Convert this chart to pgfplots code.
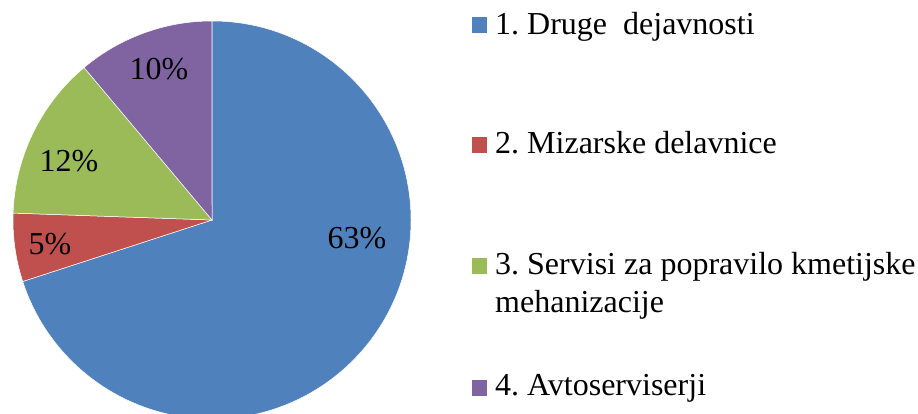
\documentclass[border=0pt]{standalone}
\usepackage{fontspec}
\setmainfont{Liberation Serif}
\usepackage{pgfplots}
\usepackage{pgfplotstable}
\pgfplotsset{compat=1.18}
\definecolor{cBlue}{HTML}{4F81BD}
\definecolor{cRed}{HTML}{C0504D}
\definecolor{cGreen}{HTML}{9BBB59}
\definecolor{cPurple}{HTML}{8064A2}
\newcommand\lf{\fontsize{32}{37.7}\selectfont\frenchspacing}
\tikzset{lbl/.style={font=\lf, inner sep=0pt}}
\pgfplotstableread{
id value
1 63
2 5
3 12
4 10
}\piedata
\begin{document}
\begin{tikzpicture}
\pgfplotstablegetelem{0}{value}\of\piedata \let\vA\pgfplotsretval
\pgfplotstablegetelem{1}{value}\of\piedata \let\vB\pgfplotsretval
\pgfplotstablegetelem{2}{value}\of\piedata \let\vC\pgfplotsretval
\pgfplotstablegetelem{3}{value}\of\piedata \let\vD\pgfplotsretval
\pgfmathsetmacro\total{\vA+\vB+\vC+\vD}
\pgfmathsetmacro\aA{90}
\pgfmathsetmacro\aB{\aA-\vA/\total*360}
\pgfmathsetmacro\aC{\aB-\vB/\total*360}
\pgfmathsetmacro\aD{\aC-\vC/\total*360}
\pgfmathsetmacro\aE{\aD-\vD/\total*360}
\def\cx{212}\def\cy{194}\def\R{199pt}
\begin{axis}[
  hide axis, x=1pt, y=1pt,
  xmin=0, xmax=918, ymin=0, ymax=414,
  clip=true,
]
\fill[cBlue, draw=white, line width=0.5pt] (axis cs:\cx,\cy) -- ([shift={(\aA:\R)}]axis cs:\cx,\cy) arc[start angle=\aA, end angle=\aB, radius=\R] -- cycle;
\fill[cRed, draw=white, line width=0.5pt] (axis cs:\cx,\cy) -- ([shift={(\aB:\R)}]axis cs:\cx,\cy) arc[start angle=\aB, end angle=\aC, radius=\R] -- cycle;
\fill[cGreen, draw=white, line width=0.5pt] (axis cs:\cx,\cy) -- ([shift={(\aC:\R)}]axis cs:\cx,\cy) arc[start angle=\aC, end angle=\aD, radius=\R] -- cycle;
\fill[cPurple, draw=white, line width=0.5pt] (axis cs:\cx,\cy) -- ([shift={(\aD:\R)}]axis cs:\cx,\cy) arc[start angle=\aD, end angle=\aE, radius=\R] -- cycle;
\node[lbl] at (axis cs:357,176) {\vA\%};
\node[lbl] at (axis cs:50,170) {\vB\%};
\node[lbl] at (axis cs:69,253) {\vC\%};
\node[lbl] at (axis cs:159,345) {\vD\%};
\fill[cBlue] (axis cs:472,381) rectangle (axis cs:487,397);
\fill[cRed] (axis cs:472,261) rectangle (axis cs:487,277);
\fill[cGreen] (axis cs:472,140) rectangle (axis cs:487,156);
\fill[cPurple] (axis cs:472,18) rectangle (axis cs:487,34);
\node[lbl, anchor=base west] at (axis cs:495,379.7) {1. Druge\ \ dejavnosti};
\node[lbl, anchor=base west] at (axis cs:495,260) {2. Mizarske delavnice};
\node[lbl, anchor=base west] at (axis cs:495,139) {3. Servisi za popravilo kmetijske};
\node[lbl, anchor=base west] at (axis cs:495,101.3) {mehanizacije};
\node[lbl, anchor=base west] at (axis cs:495,18) {4. Avtoserviserji};
\coordinate (bl) at (axis cs:0,0);
\coordinate (tr) at (axis cs:918,414);
\end{axis}
\pgfresetboundingbox
\path[use as bounding box] (bl) rectangle (tr);
\end{tikzpicture}
\end{document}
